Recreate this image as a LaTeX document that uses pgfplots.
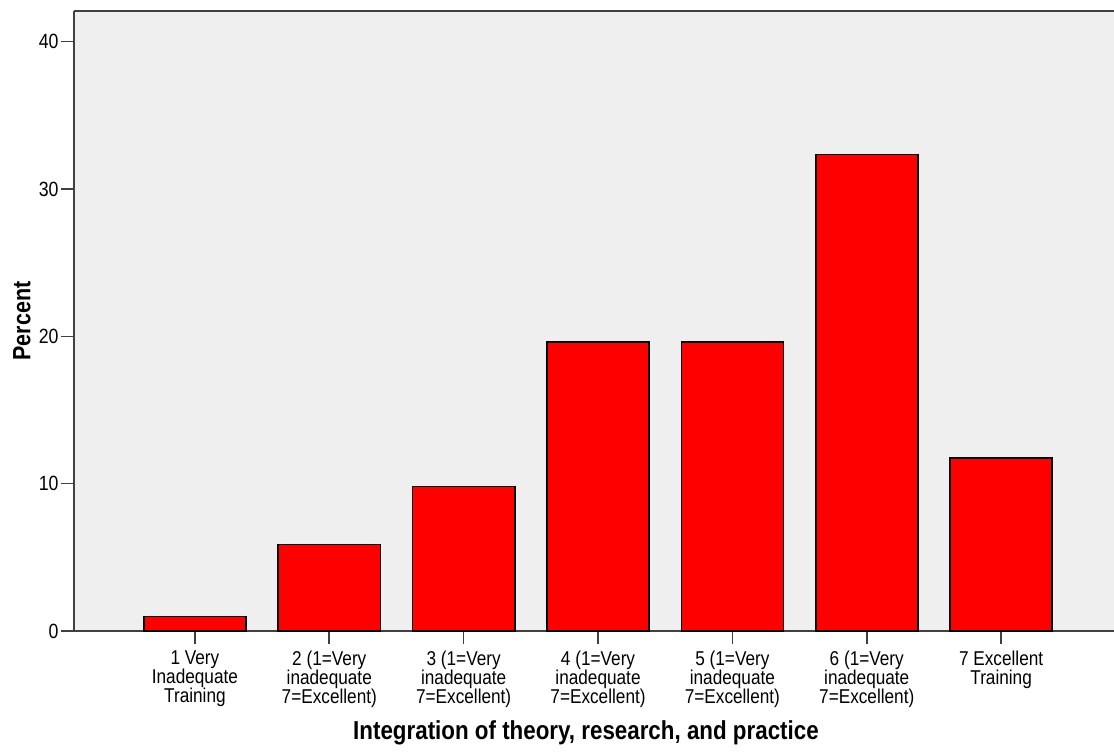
\documentclass[border=0pt]{standalone}
\usepackage{fontspec}
\setmainfont{Liberation Sans}
\newfontfamily\narrowfont{Liberation Sans}[FakeStretch=0.86]
\usepackage{pgfplots}
\pgfplotsset{compat=1.18}
\definecolor{panel}{HTML}{EFEFEF}
\definecolor{barred}{HTML}{FF0000}
\definecolor{spine}{HTML}{404040}

\begin{document}
\begin{tikzpicture}
    % 1 px of the reference = 0.5pt
    \path[use as bounding box] (-37pt,-60pt) rectangle (520pt,315.5pt);
    \begin{axis}[
        at={(0,0)}, anchor=south west,
        scale only axis,
        width=520pt, height=310pt,
        axis lines=left,
        axis line style={-, line width=0.9pt, spine},
        axis background/.style={fill=panel},
        xmin=-0.9, xmax=6.84,
        ymin=0, ymax=42.08,
        ytick={0,10,20,30,40},
        xtick=data,
        xticklabels={
            {1 Very\\Inadequate\\Training},
            {2 (1=Very\\inadequate\\7=Excellent)},
            {3 (1=Very\\inadequate\\7=Excellent)},
            {4 (1=Very\\inadequate\\7=Excellent)},
            {5 (1=Very\\inadequate\\7=Excellent)},
            {6 (1=Very\\inadequate\\7=Excellent)},
            {7 Excellent\\Training}},
        tick align=outside,
        major tick length=6.5pt,
        tick style={line width=0.8pt, spine},
        /pgf/number format/assume math mode=true,
        x tick label style={align=center, font=\narrowfont\fontsize{10}{9.5}\selectfont},
        y tick label style={font=\narrowfont\fontsize{10.3}{12}\selectfont, inner sep=1pt},
        ylabel={Percent},
        xlabel={Integration of theory, research, and practice},
        every axis y label/.style={at={(axis description cs:-0.05,0.5)}, rotate=90, anchor=center,
            font=\narrowfont\bfseries\fontsize{12.5}{14}\selectfont},
        every axis x label/.style={at={(axis description cs:0.4923,-0.1645)}, anchor=center,
            font=\narrowfont\bfseries\fontsize{13}{15}\selectfont},
        ybar=0pt,
        bar width=0.76,
        clip=false,
    ]
    \addplot[draw=black, line width=0.8pt, fill=barred]
        coordinates {
            (0, 0.98)
            (1, 5.88)
            (2, 9.80)
            (3, 19.61)
            (4, 19.61)
            (5, 32.35)
            (6, 11.76)
        };
    \draw[line width=0.9pt, spine] (rel axis cs:0,1) -- (rel axis cs:1,1);
    \end{axis}
\end{tikzpicture}
\end{document}
